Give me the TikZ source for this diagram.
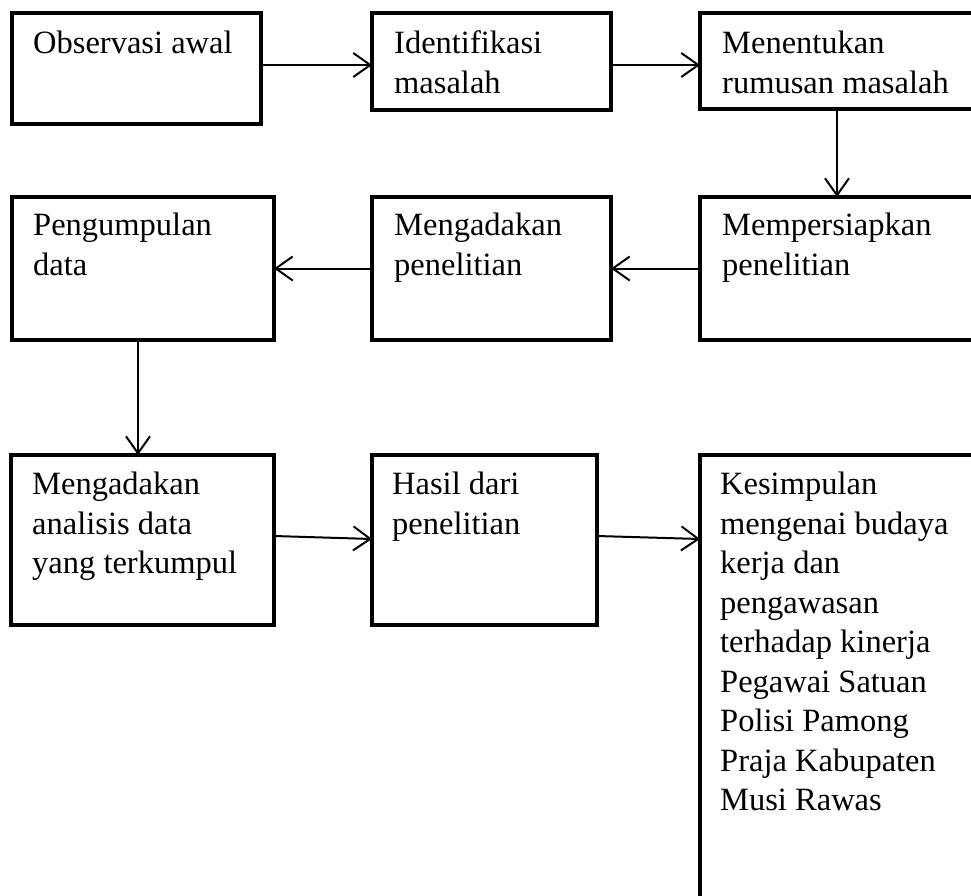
\documentclass[tikz,border=0pt]{standalone}
\usepackage{fontspec}
\setmainfont{Liberation Serif}
\usetikzlibrary{arrows.meta}
\tikzset{
    box/.style={draw, line width=4.5pt, rectangle, anchor=north west, inner sep=0pt, outer sep=0pt},
    txt/.style={anchor=north west, align=left, inner sep=0pt, font=\fontsize{32.5}{39.5}\selectfont},
    flow/.style={line width=2pt, -{Straight Barb[length=17pt,width=24pt,line width=2pt]}}
}
\begin{document}
\begin{tikzpicture}[x=1pt,y=-1pt]
    \useasboundingbox (0,0) rectangle (971,896);
    \clip (0,0) rectangle (971,896);
    % boxes: name/x/y/width/height
    \foreach \n/\x/\y/\w/\h in {obs/12/13/249/111, ident/372/13/239/97, rumus/700/13/320/96,
        kumpul/12/197/262/143, adakan/372/197/239/143, siap/700/197/320/143,
        analisis/11/455/263/170, hasil/372/455/225/170, simpul/700/455/320/500}{
        \node[box, minimum width=\w pt, minimum height=\h pt] (\n) at (\x,\y) {};
    }
    % texts
    \node[txt] (tobs) at ([xshift=21pt,yshift=-13pt]obs.north west) {\strut Observasi awal};
    \node[txt] (tident) at ([xshift=22pt,yshift=-13pt]ident.north west) {\strut Identifikasi\\masalah};
    \node[txt] (trumus) at ([xshift=22pt,yshift=-13pt]rumus.north west) {\strut Menentukan\\rumusan masalah};
    \node[txt] (tkumpul) at ([xshift=21pt,yshift=-11pt]kumpul.north west) {\strut Pengumpulan\\data};
    \node[txt] (tadakan) at ([xshift=22pt,yshift=-11pt]adakan.north west) {\strut Mengadakan\\penelitian};
    \node[txt] (tsiap) at ([xshift=22pt,yshift=-11pt]siap.north west) {\strut Mempersiapkan\\penelitian};
    \node[txt] (tanalisis) at ([xshift=21pt,yshift=-12pt]analisis.north west) {\strut Mengadakan\\analisis data\\yang terkumpul};
    \node[txt] (thasil) at ([xshift=20pt,yshift=-12pt]hasil.north west) {\strut Hasil dari\\penelitian};
    \node[txt] (tsimpul) at ([xshift=20pt,yshift=-12pt]simpul.north west) {\strut Kesimpulan\\mengenai budaya\\kerja dan\\pengawasan\\terhadap kinerja\\Pegawai Satuan\\Polisi Pamong\\Praja Kabupaten\\Musi Rawas};
    % connectors
    \coordinate (lvtop) at (0,65);
    \coordinate (lva) at (0,536);
    \coordinate (lvb) at (0,539);
    \coordinate (colr) at (837,0);
    \coordinate (coll) at (138,0);
    \draw[flow] (obs.east |- lvtop) -- (ident.west |- lvtop);
    \draw[flow] (ident.east |- lvtop) -- (rumus.west |- lvtop);
    \draw[flow] (rumus.south -| colr) -- (siap.north -| colr);
    \draw[flow] (siap.west) -- (adakan.east);
    \draw[flow] (adakan.west) -- (kumpul.east);
    \draw[flow] (kumpul.south -| coll) -- (analisis.north -| coll);
    \draw[flow] (analisis.east |- lva) -- (hasil.west |- lvb);
    \draw[flow] (hasil.east |- lva) -- (simpul.west |- lvb);
\end{tikzpicture}
\end{document}
